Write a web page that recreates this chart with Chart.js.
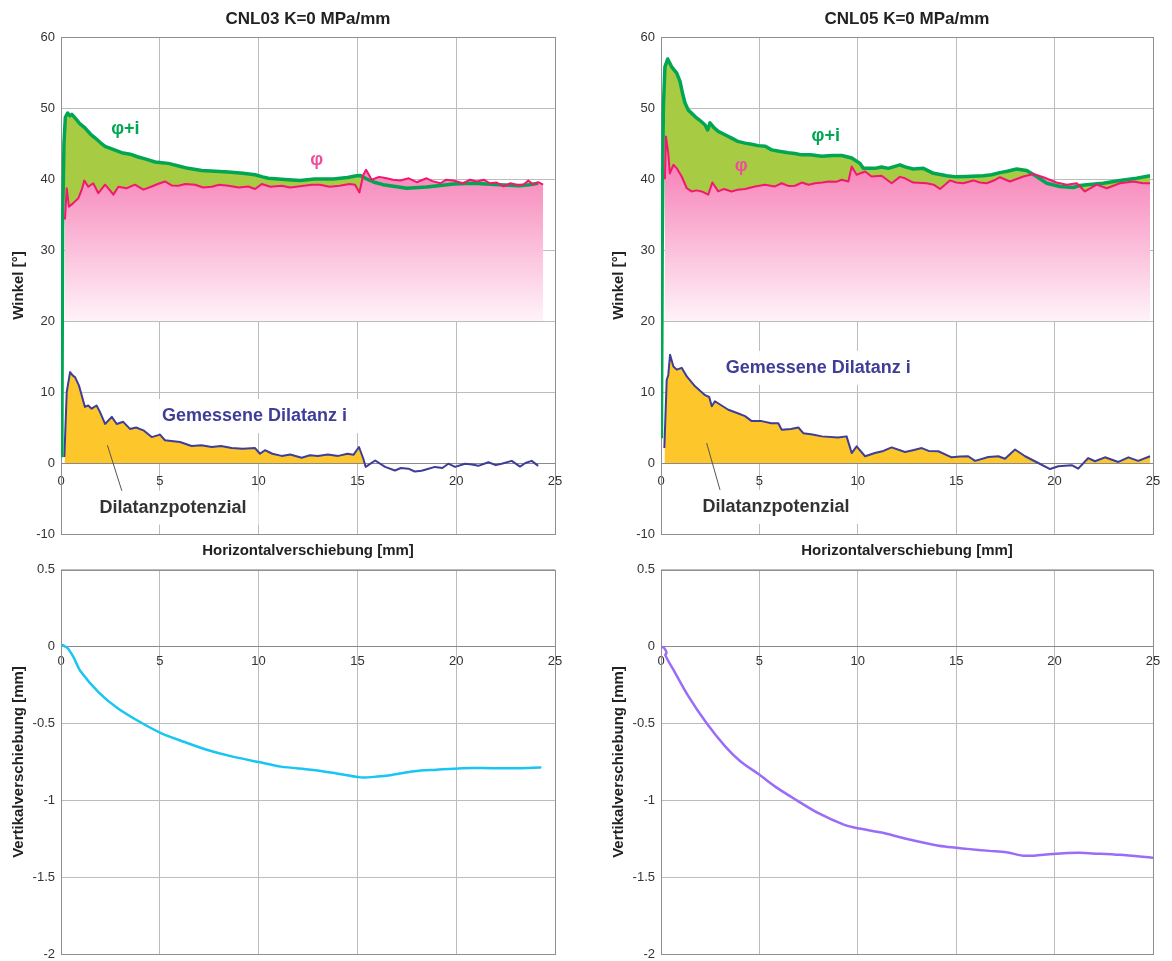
<!DOCTYPE html>
<html>
<head>
<meta charset="utf-8">
<script src="https://cdn.jsdelivr.net/npm/chart.js@4.4.0/dist/chart.umd.min.js"></script>
<style>
  html, body { margin: 0; padding: 0; background: #fff; }
  #wrap { position: relative; width: 1172px; height: 961px; overflow: hidden; }
  canvas { position: absolute; }
</style>
</head>
<body>
<div id="wrap">
  <canvas id="topL" width="580" height="562" style="left:0;top:0;width:580px;height:562px"></canvas>
  <canvas id="topR" width="572" height="562" style="left:600px;top:0;width:572px;height:562px"></canvas>
  <canvas id="botL" width="580" height="412" style="left:0;top:556px;width:580px;height:412px"></canvas>
  <canvas id="botR" width="572" height="412" style="left:600px;top:556px;width:572px;height:412px"></canvas>
</div>
<script>

// CNL03 – Reibungswinkel phi + Dilatanz (phi+i)
const PHI_I_03 = [[0.04,0.8],[0.08,33],[0.15,45],[0.22,48.7],[0.34,49.3],[0.45,48.9],[0.55,49.1],[0.71,48.6],[0.95,47.8],[1.21,47.2],[1.5,46.3],[1.72,45.8],[2.0,45.1],[2.23,44.6],[2.6,44.2],[3.07,43.7],[3.5,43.5],[3.91,43.1],[4.3,42.8],[4.76,42.4],[5.1,42.3],[5.43,42.2],[6.0,41.8],[6.44,41.5],[7.12,41.2],[7.8,41.1],[8.47,41.0],[9.2,40.8],[9.82,40.6],[10.2,40.3],[10.49,40.1],[11.5,39.9],[12.1,39.8],[12.85,40.0],[13.78,40.0],[14.5,40.2],[14.96,40.45],[15.15,40.5],[15.47,40.0],[15.9,39.5],[16.3,39.2],[17.0,38.9],[17.5,38.7],[18.5,38.86],[19.2,39.1],[19.85,39.3],[20.87,39.4],[21.5,39.3],[22.2,39.2],[23.2,39.05],[23.7,39.2],[24.15,39.4]];
// CNL03 – phi
const PHI_03 = [[0.2,34.3],[0.29,38.7],[0.4,36.1],[0.62,36.6],[0.88,37.3],[1.05,38.5],[1.18,39.8],[1.38,38.9],[1.63,39.4],[1.89,38.0],[2.23,39.2],[2.45,38.5],[2.65,37.8],[2.9,38.9],[3.32,38.7],[3.74,39.2],[4.17,38.5],[4.59,38.95],[4.9,39.3],[5.26,39.65],[5.6,39.1],[5.94,39.05],[6.3,39.3],[6.78,39.2],[7.2,38.8],[7.63,38.9],[8.0,39.2],[8.47,39.05],[9.0,38.8],[9.48,38.95],[9.82,38.6],[10.16,39.3],[10.6,38.9],[11.17,39.05],[11.6,38.8],[12.0,38.95],[12.7,39.2],[13.1,39.2],[13.6,38.9],[14.1,39.05],[14.6,39.3],[14.88,39.2],[15.1,38.1],[15.3,40.6],[15.44,41.3],[15.72,39.9],[16.1,40.3],[16.48,40.1],[16.8,39.9],[17.16,39.8],[17.6,40.1],[18.0,39.55],[18.5,40.1],[18.8,39.7],[19.2,39.4],[19.5,39.9],[19.85,39.8],[20.35,39.4],[20.7,39.9],[21.04,39.65],[21.4,39.9],[21.7,39.4],[22.05,39.5],[22.4,38.95],[22.75,39.4],[23.06,39.2],[23.4,39.2],[23.65,39.8],[23.9,39.2],[24.15,39.55],[24.4,39.2]];
// CNL03 – gemessene Dilatanz i
const DIL_03 = [[0.17,0.85],[0.29,10.0],[0.46,12.8],[0.6,12.3],[0.71,12.1],[0.91,10.9],[1.05,9.5],[1.21,7.9],[1.38,8.1],[1.55,7.65],[1.8,8.1],[1.97,7.2],[2.23,5.5],[2.57,6.5],[2.82,5.5],[3.15,5.8],[3.49,4.8],[3.8,5.0],[4.17,4.6],[4.59,3.65],[5.01,4.0],[5.26,3.2],[6.02,2.95],[6.61,2.4],[7.1,2.5],[7.63,2.25],[8.1,2.4],[8.64,2.1],[9.2,2.0],[9.82,2.1],[10.07,1.3],[10.32,1.8],[10.7,1.3],[11.17,1.0],[11.6,1.2],[12.18,0.75],[12.6,1.1],[13.0,1.0],[13.5,1.2],[14.03,1.0],[14.5,1.3],[14.8,1.15],[15.08,2.25],[15.3,0.6],[15.42,-0.55],[15.9,0.35],[16.4,-0.55],[16.9,-1.05],[17.2,-0.7],[17.58,-0.8],[17.9,-1.2],[18.25,-1.1],[18.6,-0.8],[18.93,-0.55],[19.3,-0.7],[19.6,-0.1],[19.94,-0.55],[20.45,-0.1],[20.8,-0.2],[21.12,-0.4],[21.63,0.1],[22.0,-0.3],[22.3,-0.1],[22.81,0.3],[23.23,-0.5],[23.5,0.0],[23.82,0.3],[24.15,-0.4]];
// CNL03 – Vertikalverschiebung [mm]
const VERT_03 = [[0.09,0.01],[0.34,-0.01],[0.62,-0.065],[0.99,-0.16],[1.93,-0.30],[2.87,-0.40],[4.0,-0.49],[5.03,-0.56],[6.25,-0.62],[7.37,-0.67],[8.69,-0.715],[10.0,-0.75],[11.13,-0.78],[12.63,-0.80],[13.75,-0.82],[15.16,-0.85],[16.0,-0.845],[16.75,-0.834],[17.88,-0.81],[19.0,-0.80],[20.3,-0.79],[21.8,-0.79],[23.1,-0.79],[24.26,-0.785]];

// CNL05 – phi+i
const PHI_I_05 = [[0.02,3.5],[0.06,30],[0.12,50],[0.2,55.8],[0.34,56.9],[0.54,55.8],[0.8,54.9],[0.97,53.7],[1.1,52.0],[1.22,50.7],[1.39,49.7],[1.73,48.8],[2.0,48.2],[2.24,47.6],[2.37,46.9],[2.49,47.9],[2.7,47.2],[2.91,46.7],[3.2,46.3],[3.59,45.75],[3.9,45.3],[4.27,45.05],[4.6,44.9],[4.94,44.7],[5.3,44.6],[5.62,44.1],[6.0,43.9],[6.47,43.7],[6.8,43.6],[7.15,43.4],[7.6,43.4],[8.17,43.2],[8.7,43.3],[9.18,43.3],[9.69,42.95],[10.11,42.2],[10.28,41.5],[10.87,41.5],[11.2,41.7],[11.55,41.5],[12.14,42.0],[12.4,41.7],[12.82,41.4],[13.33,41.5],[13.84,40.8],[14.52,40.45],[15.0,40.3],[15.53,40.35],[16.38,40.45],[16.8,40.6],[17.22,40.9],[17.6,41.1],[18.07,41.4],[18.58,41.2],[19.09,40.35],[19.6,39.4],[20.27,38.95],[20.95,38.8],[21.3,39.1],[21.63,39.2],[22.47,39.4],[23.32,39.8],[24.17,40.1],[24.85,40.45]];
// CNL05 – phi
const PHI_05 = [[0.2,40.0],[0.25,46.0],[0.37,43.6],[0.45,40.8],[0.63,42.0],[0.8,41.5],[1.05,40.35],[1.31,38.7],[1.56,38.25],[1.8,38.4],[2.07,38.25],[2.4,37.8],[2.61,39.5],[2.91,38.25],[3.2,38.6],[3.59,38.25],[3.9,38.5],[4.27,38.6],[4.78,38.95],[5.28,39.2],[5.79,38.95],[6.13,39.4],[6.5,39.0],[6.81,39.05],[7.15,39.5],[7.5,39.2],[7.83,39.4],[8.2,39.5],[8.5,39.65],[8.9,39.6],[9.18,39.9],[9.52,39.65],[9.69,41.75],[9.94,40.6],[10.37,41.05],[10.7,40.35],[11.21,40.45],[11.72,39.4],[12.14,40.3],[12.4,40.1],[12.82,39.5],[13.5,39.4],[13.85,39.2],[14.18,38.6],[14.68,39.8],[15.0,39.5],[15.36,39.4],[15.87,39.8],[16.2,39.5],[16.55,39.4],[17.0,39.9],[17.22,40.25],[17.73,39.65],[18.41,40.35],[18.92,40.7],[19.43,40.25],[20.1,39.5],[20.62,39.2],[21.13,39.4],[21.54,38.25],[22.14,39.2],[22.65,38.7],[23.32,39.4],[24.0,39.65],[24.5,39.4],[24.85,39.4]];
// CNL05 – gemessene Dilatanz i
const DIL_05 = [[0.17,2.1],[0.29,11.7],[0.37,12.4],[0.46,15.25],[0.63,13.6],[0.8,13.15],[1.05,13.4],[1.31,12.2],[1.73,10.8],[2.24,9.55],[2.45,9.3],[2.58,8.0],[2.74,8.7],[3.42,7.5],[3.9,7.0],[4.27,6.6],[4.61,5.9],[5.12,5.9],[5.6,5.6],[5.96,5.6],[6.13,4.7],[6.6,4.8],[6.98,5.0],[7.23,4.2],[7.7,4.0],[8.17,3.75],[9.0,3.6],[9.43,3.75],[9.69,1.4],[9.94,2.35],[10.37,0.95],[10.87,1.4],[11.3,1.7],[11.72,2.2],[12.4,1.55],[12.8,1.8],[13.25,2.1],[13.6,1.7],[14.09,1.65],[14.77,0.8],[15.2,0.9],[15.61,0.95],[15.96,0.3],[16.63,0.85],[17.14,0.95],[17.48,0.6],[17.99,1.9],[18.5,0.95],[19.17,0.0],[19.77,-0.85],[20.19,-0.45],[20.87,-0.3],[21.2,-0.8],[21.71,0.7],[22.05,0.25],[22.56,0.8],[23.24,0.15],[23.75,0.8],[24.25,0.3],[24.85,0.95]];
// CNL05 – Vertikalverschiebung [mm]
const VERT_05 = [[0,0],[0.15,-0.007],[0.28,-0.04],[0.22,-0.055],[0.62,-0.148],[1.38,-0.32],[2.33,-0.50],[3.27,-0.65],[4.03,-0.745],[4.97,-0.83],[5.92,-0.92],[6.86,-0.996],[8.0,-1.083],[9.32,-1.159],[10.08,-1.183],[11.21,-1.209],[12.34,-1.246],[13.48,-1.278],[14.42,-1.30],[15.56,-1.315],[16.69,-1.328],[17.54,-1.337],[18.39,-1.359],[18.96,-1.359],[19.9,-1.348],[21.23,-1.341],[22.17,-1.346],[23.31,-1.354],[24.97,-1.372]];

// Achsen [min, max, Schritt]
const X_RANGE = [0, 25, 5];
const Y_TOP = [-10, 60, 10];
const Y_BOT = [-2, 0.5, 0.5];

const FONT = '"Liberation Sans", Arial, sans-serif';
const GRID = '#bcbcbc';
const PINK = '#f2186e', GREEN = '#00a651', LIME = '#a8cb44', NAVY = '#3e3e98', YELLOW = '#fdc72c';
const NONE = 'rgba(0,0,0,0)';

Chart.defaults.font.family = FONT;
Chart.defaults.color = '#333';

const pts = arr => arr.map(([x, y]) => ({ x, y }));

// Beschriftungen im Diagramm (Datenkoordinaten)
const NOTES = {
  topL: {
    leader: [[2.35, 2.5], [3.1, -4.1]],
    labels: [
      { text: 'φ+i', x: 3.26, y: 47.0, color: GREEN },
      { text: 'φ', x: 12.94, y: 42.7, color: '#ee4d9b' },
      { text: 'Gemessene Dilatanz i', x: 9.79, y: 6.6, color: NAVY, bg: true },
      { text: 'Dilatanzpotenzial', x: 5.67, y: -6.3, color: '#333', bg: true }
    ]
  },
  topR: {
    leader: [[2.32, 2.8], [3.0, -3.8]],
    labels: [
      { text: 'φ+i', x: 8.37, y: 46.0, color: GREEN },
      { text: 'φ', x: 4.07, y: 41.86, color: '#ee4d9b' },
      { text: 'Gemessene Dilatanz i', x: 7.99, y: 13.4, color: NAVY, bg: true },
      { text: 'Dilatanzpotenzial', x: 5.84, y: -6.2, color: '#333', bg: true }
    ]
  }
};

const decor = {
  id: 'decor',
  beforeDatasetsDraw(chart) {
    const a = chart.chartArea, c = chart.ctx;
    c.save();
    c.strokeStyle = '#8f8f8f';
    c.lineWidth = 1;
    c.strokeRect(Math.round(a.left) + 0.5, Math.round(a.top) + 0.5,
      Math.round(a.right) - Math.round(a.left), Math.round(a.bottom) - Math.round(a.top));
    c.restore();
  },
  afterDatasetsDraw(chart) {
    const n = NOTES[chart.canvas.id];
    if (!n) return;
    const c = chart.ctx, sx = chart.scales.x, sy = chart.scales.y;
    c.save();
    c.strokeStyle = '#555';
    c.lineWidth = 1;
    c.beginPath();
    c.moveTo(sx.getPixelForValue(n.leader[0][0]), sy.getPixelForValue(n.leader[0][1]));
    c.lineTo(sx.getPixelForValue(n.leader[1][0]), sy.getPixelForValue(n.leader[1][1]));
    c.stroke();
    n.labels.forEach(l => {
      c.font = 'bold 18px ' + FONT;
      const w = c.measureText(l.text).width;
      const px = sx.getPixelForValue(l.x), py = sy.getPixelForValue(l.y);
      if (l.bg) {
        c.fillStyle = 'rgba(255,255,255,0.95)';
        c.fillRect(px - w / 2 - 12, py - 17, w + 24, 34);
      }
      c.fillStyle = l.color;
      c.textAlign = 'center';
      c.textBaseline = 'middle';
      c.fillText(l.text, px, py);
    });
    c.restore();
  }
};

function pinkFill(ctx) {
  const chart = ctx.chart;
  if (!chart.chartArea) return 'rgba(247,140,190,0.8)';
  const ys = chart.scales.y;
  const g = chart.ctx.createLinearGradient(0, ys.getPixelForValue(41), 0, ys.getPixelForValue(20));
  g.addColorStop(0, '#f788bc');
  g.addColorStop(1, '#fff3f8');
  return g;
}

function xScale(pad) {
  return {
    type: 'linear', min: X_RANGE[0], max: X_RANGE[1], position: { y: 0 },
    ticks: { stepSize: X_RANGE[2], padding: pad, font: { size: 13 }, color: '#333', maxRotation: 0 },
    grid: { color: GRID, drawTicks: false },
    border: { color: '#8a8a8a' }
  };
}

function yScale(r, title) {
  return {
    type: 'linear', min: r[0], max: r[1],
    ticks: { stepSize: r[2], padding: 6, font: { size: 13 }, color: '#333', callback: v => String(+v.toFixed(2)) },
    grid: { color: GRID, drawTicks: false },
    border: { display: false },
    title: { display: true, text: title, font: { size: 15, weight: 'bold' }, color: '#222', padding: { top: 9.5, bottom: 0 } },
    afterFit(s) { s.width = 61; }
  };
}

function topChart(id, title, phi, phiI, dil, yellowUpTo, padR) {
  const datasets = [
    { data: pts(phi), borderColor: PINK, borderWidth: 2, backgroundColor: pinkFill, fill: { value: 20 } },
    { data: pts(phiI), borderColor: GREEN, borderWidth: 3.5, backgroundColor: LIME, fill: { target: 0, above: LIME, below: NONE } },
    { data: pts(dil), borderColor: NAVY, borderWidth: 2, backgroundColor: YELLOW,
      fill: yellowUpTo == null ? { target: 'origin', above: YELLOW, below: NONE } : false }
  ];
  if (yellowUpTo != null) {
    datasets.push({ data: pts(dil.filter(p => p[0] <= yellowUpTo)), borderColor: NONE, borderWidth: 1,
      backgroundColor: YELLOW, fill: { target: 'origin', above: YELLOW, below: NONE } });
  }
  return new Chart(document.getElementById(id), {
    type: 'line',
    data: { datasets },
    options: {
      responsive: false, animation: false, devicePixelRatio: 1,
      layout: { padding: { left: 0, right: padR, top: 0, bottom: 0 } },
      elements: { point: { radius: 0 }, line: { tension: 0, borderJoinStyle: 'round' } },
      plugins: {
        legend: { display: false }, tooltip: { enabled: false },
        filler: { drawTime: 'beforeDatasetsDraw' },
        title: { display: true, fullSize: false, text: title, font: { size: 17, weight: 'bold' }, color: '#222', padding: { top: 9, bottom: 7.6 } }
      },
      scales: {
        x: xScale(11),
        xt: {
          type: 'linear', min: X_RANGE[0], max: X_RANGE[1], position: 'bottom',
          ticks: { display: false }, grid: { display: false }, border: { display: false },
          title: { display: true, text: 'Horizontalverschiebung [mm]', font: { size: 15, weight: 'bold' }, color: '#222', padding: { top: 0, bottom: 2 } },
          afterFit(s) { s.height = 28; }
        },
        y: yScale(Y_TOP, 'Winkel [°]')
      }
    },
    plugins: [decor]
  });
}

function botChart(id, data, color, padR) {
  return new Chart(document.getElementById(id), {
    type: 'line',
    data: { datasets: [{ data: pts(data), borderColor: color, borderWidth: 2.5, fill: false }] },
    options: {
      responsive: false, animation: false, devicePixelRatio: 1,
      layout: { padding: { left: 0, right: padR, top: 0, bottom: 0 } },
      elements: { point: { radius: 0 }, line: { tension: 0.3, borderJoinStyle: 'round', borderCapStyle: 'round' } },
      plugins: { legend: { display: false }, tooltip: { enabled: false }, title: { display: false } },
      scales: {
        x: xScale(7),
        y: yScale(Y_BOT, 'Vertikalverschiebung [mm]')
      }
    },
    plugins: [decor]
  });
}

topChart('topL', 'CNL03 K=0 MPa/mm', PHI_03, PHI_I_03, DIL_03, 15.42, 25);
topChart('topR', 'CNL05 K=0 MPa/mm', PHI_05, PHI_I_05, DIL_05, null, 19);
botChart('botL', VERT_03, '#19c5f3', 25);
botChart('botR', VERT_05, '#9a6cf7', 19);
</script>
</body>
</html>
